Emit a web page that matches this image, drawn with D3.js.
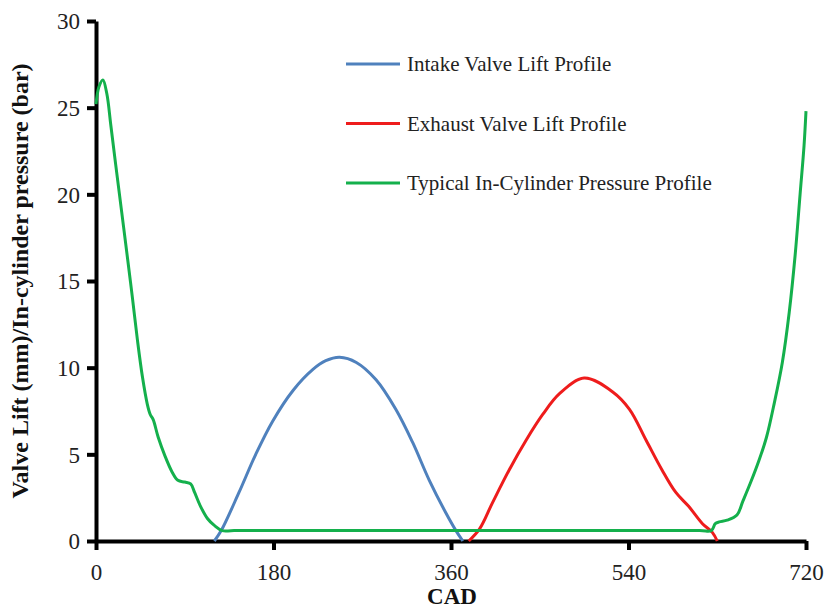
<!DOCTYPE html>
<html>
<head>
<meta charset="utf-8">
<script src="https://cdn.jsdelivr.net/npm/d3@7"></script>
<style>
    body { margin: 0; background: #fff; }
    svg { display: block; font-family: 'Liberation Serif', 'Times New Roman', serif; }
</style>
</head>
<body>
<svg id="chart" width="831" height="610"></svg>
<script>
// tick values
const cadTicks = [0, 180, 360, 540, 720]
const yTicks = [0, 5, 10, 15, 20, 25, 30]

// intake valve lift (mm)
const intakeCad  = [120, 127, 145, 162, 179, 200, 220, 233, 247, 264, 284, 304, 321, 338, 355, 365, 372]
const intakeLift = [0, 0.6, 2.8, 5.0, 6.9, 8.7, 9.9, 10.4, 10.6, 10.3, 9.3, 7.6, 5.7, 3.5, 1.6, 0.6, 0]

// exhaust valve lift (mm)
const exhaustCad  = [378, 389, 402, 419, 436, 453, 470, 495, 524, 541, 558, 574, 588, 601, 615, 625, 630]
const exhaustLift = [0, 0.7, 2.2, 4.1, 5.8, 7.3, 8.5, 9.4, 8.6, 7.6, 5.8, 4.1, 2.8, 2.0, 1.0, 0.5, 0]

// in-cylinder pressure (bar)
const pressureCad = [0, 3, 7, 11, 15, 20, 26, 32, 37, 42, 47, 52, 55, 58, 63, 70, 77, 83, 90, 96, 100, 106, 113, 120, 128, 140,
    612, 624, 628, 632, 640, 650, 656, 664, 672, 680, 688, 696, 703, 709, 714, 718, 720]
const pressureVal = [25.2, 26.2, 26.6, 25.8, 24.0, 21.7, 19.0, 16.3, 14.0, 11.6, 9.5, 7.9, 7.3, 7.0, 6.0, 4.9, 4.0, 3.5, 3.4, 3.3, 2.8, 2.0, 1.3, 0.9, 0.6, 0.6,
    0.6, 0.6, 1.0, 1.1, 1.2, 1.5, 2.3, 3.4, 4.6, 6.0, 8.0, 10.3, 13.2, 16.5, 20.0, 22.8, 24.8]

const seriesNames = ['Intake Valve Lift Profile', 'Exhaust Valve Lift Profile', 'Typical In-Cylinder Pressure Profile']
const seriesColors = ['#4f81bd', '#ee1c1c', '#14b04c']

const svg = d3.select('#chart')
const x = d3.scaleLinear().domain([0, 720]).range([96, 806])
const y = d3.scaleLinear().domain([0, 30]).range([541, 21])

const zip = (xs, ys) => xs.map((v, i) => [v, ys[i]])

const line = d3.line()
    .x((d) => x(d[0]))
    .y((d) => y(d[1]))
    .curve(d3.curveCatmullRom.alpha(0.5))

const series = [
    zip(intakeCad, intakeLift),
    zip(exhaustCad, exhaustLift),
    zip(pressureCad, pressureVal)
]

// axes
const xAxis = svg.append('g')
    .attr('transform', `translate(0,${y(0)})`)
    .call(d3.axisBottom(x).tickValues(cadTicks).tickSize(9).tickSizeOuter(0))
const yAxis = svg.append('g')
    .attr('transform', `translate(${x(0)},0)`)
    .call(d3.axisLeft(y).tickValues(yTicks).tickSize(9).tickSizeOuter(0))

;[xAxis, yAxis].forEach((a) => {
    a.select('.domain').attr('stroke', '#000').attr('stroke-width', 4)
    a.selectAll('.tick line').attr('stroke', '#000').attr('stroke-width', 4)
    a.selectAll('.tick text')
        .attr('fill', '#222')
        .style('font-size', '23px')
        .style('font-family', "'Liberation Serif', serif")
})
xAxis.selectAll('.tick text').attr('dy', null).attr('y', 39)
yAxis.selectAll('.tick text').attr('x', -16).attr('dy', '0.34em')

// axis titles
svg.append('text')
    .attr('x', 452).attr('y', 604)
    .attr('text-anchor', 'middle')
    .attr('font-weight', 'bold')
    .attr('font-size', 23)
    .attr('fill', '#111')
    .text('CAD')

svg.append('text')
    .attr('transform', 'translate(28,281) rotate(-90)')
    .attr('text-anchor', 'middle')
    .attr('font-weight', 'bold')
    .attr('font-size', 24)
    .attr('fill', '#111')
    .text('Valve Lift (mm)/In-cylinder pressure (bar)')

// curves
svg.append('g').selectAll('path')
    .data(series)
    .enter()
    .append('path')
    .attr('d', line)
    .attr('fill', 'none')
    .attr('stroke', (d, i) => seriesColors[i])
    .attr('stroke-width', 3)
    .attr('stroke-linejoin', 'round')

// legend
const legend = svg.append('g').attr('transform', 'translate(346,64)')
const entries = legend.selectAll('g')
    .data(seriesNames)
    .enter()
    .append('g')
    .attr('transform', (d, i) => `translate(0,${i * 59.5})`)

entries.append('line')
    .attr('x1', 0).attr('x2', 54)
    .attr('stroke', (d, i) => seriesColors[i])
    .attr('stroke-width', 3)

entries.append('text')
    .attr('x', 61).attr('y', 7)
    .attr('font-size', 21)
    .attr('fill', '#222')
    .text((d) => d)
</script>
</body>
</html>
